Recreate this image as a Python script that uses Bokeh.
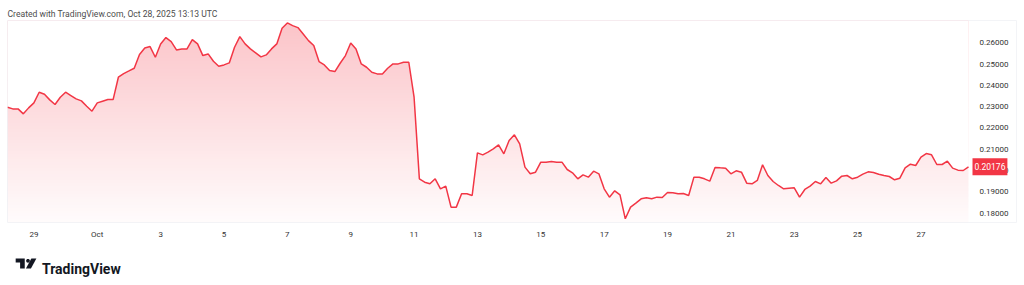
import numpy as np
import pandas as pd
from bokeh.plotting import figure
from bokeh.layouts import column
from bokeh.models import Range1d, FixedTicker, NumeralTickFormatter, Label
from bokeh.core.properties import value
from bokeh.embed import file_html
from bokeh.resources import INLINE

# ---------------- data ----------------
start_time = "2025-09-28 04:00"
step = "4h"
prices = [
    0.22977, 0.22898, 0.22898, 0.22664, 0.22945, 0.23180, 0.23681, 0.23587, 0.23321, 0.23102,
    0.23446, 0.23681, 0.23524, 0.23368, 0.23274, 0.23023, 0.22789, 0.23180, 0.23258, 0.23336,
    0.23336, 0.24385, 0.24557, 0.24682, 0.24808, 0.25449, 0.25762, 0.25825, 0.25324, 0.25950,
    0.26247, 0.26059, 0.25668, 0.25715, 0.25715, 0.26153, 0.25950, 0.25402, 0.25480, 0.25136,
    0.24901, 0.24964, 0.25058, 0.25793, 0.26294, 0.25950, 0.25715, 0.25527, 0.25340, 0.25433,
    0.25715, 0.25950, 0.26685, 0.26936, 0.26811, 0.26717, 0.26419, 0.26106, 0.25872, 0.25121,
    0.24964, 0.24698, 0.24651, 0.25042, 0.25402, 0.25997, 0.25715, 0.25011, 0.24854, 0.24620,
    0.24541, 0.24541, 0.24808, 0.25011, 0.25011, 0.25089, 0.25089, 0.23446, 0.19612, 0.19455,
    0.19377, 0.19612, 0.19142, 0.19268, 0.18282, 0.18282, 0.18908, 0.18908, 0.18829, 0.20833,
    0.20739, 0.20864, 0.21020, 0.21208, 0.20786, 0.21412, 0.21678, 0.21255, 0.20160, 0.19847,
    0.19925, 0.20394, 0.20394, 0.20426, 0.20394, 0.20394, 0.20050, 0.19894, 0.19612, 0.19800,
    0.19690, 0.19972, 0.19847, 0.19142, 0.18751, 0.19049, 0.18861, 0.17734, 0.18282, 0.18469,
    0.18673, 0.18720, 0.18673, 0.18751, 0.18736, 0.18970, 0.18955, 0.18908, 0.18923, 0.18829,
    0.19690, 0.19690, 0.19612, 0.19502, 0.20144, 0.20128, 0.20113, 0.19847, 0.19987, 0.19925,
    0.19408, 0.19377, 0.19534, 0.20269, 0.19768, 0.19487, 0.19299, 0.19142, 0.19174, 0.19189,
    0.18751, 0.19111, 0.19268, 0.19487, 0.19377, 0.19674, 0.19408, 0.19518, 0.19737, 0.19768,
    0.19612, 0.19690, 0.19831, 0.19941, 0.19909, 0.19831, 0.19768, 0.19721, 0.19565, 0.19643,
    0.20128, 0.20300, 0.20238, 0.20629, 0.20801, 0.20739, 0.20285, 0.20285, 0.20441, 0.20113,
    0.20019, 0.20003, 0.20176,
]
last_price = 0.20176
price_ticks = [0.18, 0.19, 0.20, 0.21, 0.22, 0.23, 0.24, 0.25, 0.26]
tick_dates = ["2025-09-29", "2025-10-01", "2025-10-03", "2025-10-05", "2025-10-07",
              "2025-10-09", "2025-10-11", "2025-10-13", "2025-10-15", "2025-10-17",
              "2025-10-19", "2025-10-21", "2025-10-23", "2025-10-25", "2025-10-27"]
tick_labels = ["29", "Oct", "3", "5", "7", "9", "11", "13", "15", "17",
               "19", "21", "23", "25", "27"]
header_text = "Created with TradingView.com, Oct 28, 2025 13:13 UTC"
brand_text = "TradingView"

# ---------------- main chart ----------------
times = pd.date_range(start_time, periods=len(prices), freq=step)
span = times[-1] - times[0]
x_end = times[-1] + span * (48 / 961)      # empty price-scale margin on the right
y_lo, y_hi = 0.1756, 0.2705
RED = "#f23645"
FONT = "Roboto"

p = figure(width=1024, height=250, x_axis_type="datetime",
           x_range=Range1d(times[0], x_end), y_range=Range1d(y_lo, y_hi),
           y_axis_location="right", toolbar_location=None, output_backend="svg",
           min_border_left=7, min_border_right=8, min_border_top=20, min_border_bottom=28)
p.outline_line_color = "#f3f4f7"
p.grid.visible = False
p.background_fill_color = "white"
p.border_fill_color = "white"

p.title.text = header_text
p.title.align = "left"
p.title.text_font = FONT
p.title.text_font_style = "normal"
p.title.text_font_size = "8.6px"
p.title.text_color = "#4d4d4d"
p.title.standoff = 4

# gradient fill under the line
n = 200
alpha = np.linspace(0.02, 0.30, n)
img = np.zeros((n, 1), dtype=np.uint32)
view = img.view(dtype=np.uint8).reshape((n, 1, 4))
view[:, 0, 0] = 242
view[:, 0, 1] = 54
view[:, 0, 2] = 69
view[:, 0, 3] = (alpha * 255).astype(np.uint8)
p.image_rgba(image=[img], x=times[0], y=y_lo, dw=span, dh=y_hi - y_lo)
p.varea(x=times, y1=prices, y2=y_hi, fill_color="white")
p.line(times, prices, line_color=RED, line_width=1.5)

# y axis (labels drawn inside the empty right margin of the pane)
ya = p.yaxis[0]
ya.ticker = FixedTicker(ticks=price_ticks)
ya.formatter = NumeralTickFormatter(format="0.00000")
ya.axis_line_color = None
ya.major_tick_line_color = None
ya.minor_tick_line_color = None
ya.major_tick_out = 0
ya.major_tick_in = 0
ya.major_label_standoff = -37
ya.major_label_text_font = FONT
ya.major_label_text_font_size = "8px"
ya.major_label_text_color = "#333333"

# x axis
tick_ms = [float(t) for t in (pd.to_datetime(tick_dates).astype("int64") // 10**6)]
xa = p.xaxis[0]
xa.ticker = FixedTicker(ticks=tick_ms)
xa.major_label_overrides = {t: lab for t, lab in zip(tick_ms, tick_labels)}
xa.axis_line_color = None
xa.major_tick_line_color = None
xa.minor_tick_line_color = None
xa.major_tick_out = 0
xa.major_tick_in = 0
xa.major_label_standoff = 7
xa.major_label_text_font = FONT
xa.major_label_text_font_size = "8px"
xa.major_label_text_color = "#333333"

# last price tag
p.add_layout(Label(x=times[-1], y=last_price, x_offset=4, text=f"{last_price:.5f}",
                   text_align="left", text_baseline="middle", text_font=FONT,
                   text_font_size="8.5px", text_color="white",
                   background_fill_color=RED, padding=(2, 5)))

# ---------------- brand strip ----------------
DARK = "#131722"
logo = figure(width=1024, height=35, x_range=Range1d(0, 1024), y_range=Range1d(35, 0),
              toolbar_location=None, output_backend="svg",
              min_border=0, min_border_left=0, min_border_right=0,
              min_border_top=0, min_border_bottom=0)
logo.axis.visible = False
logo.grid.visible = False
logo.outline_line_color = None
logo.background_fill_color = "white"
logo.border_fill_color = "white"
ang = np.linspace(0, 2 * np.pi, 16, endpoint=False)
logo.patches(xs=[[8.3, 17.5, 17.5, 12.8, 12.8, 8.3],
                 list(20.8 + 1.9 * np.cos(ang)),
                 [24.2, 29.3, 23.8, 18.7]],
             ys=[[8, 8, 18, 18, 12, 12],
                 list(10.3 + 1.9 * np.sin(ang)),
                 [8, 8, 18, 18]],
             fill_color=DARK, line_color=None)
logo.text(x=[35], y=[18.5], text=[brand_text], text_baseline="alphabetic",
          text_font=value(FONT), text_font_style="bold", text_font_size="14px",
          text_color=DARK)

layout = column(p, logo, spacing=0)
open("out.html", "w").write(file_html(layout, INLINE))
